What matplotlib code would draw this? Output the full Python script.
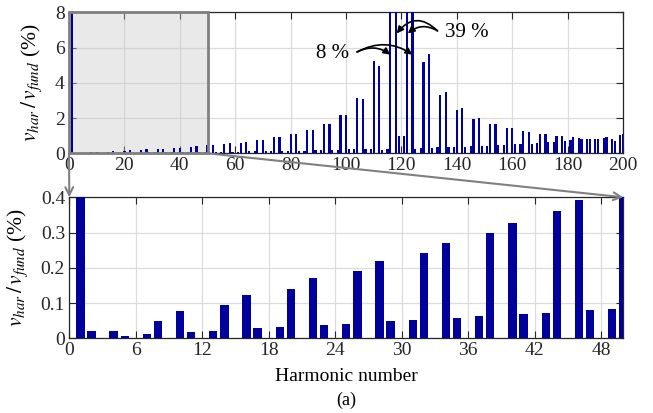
import matplotlib
matplotlib.use("Agg")
import matplotlib.pyplot as plt
from matplotlib.patches import Rectangle, ConnectionPatch

plt.rcParams['font.family'] = ['Liberation Serif', 'DejaVu Serif']
plt.rcParams['mathtext.fontset'] = 'stix'

# harmonic orders (triplen harmonics are absent)
orders = [h for h in range(1, 201) if h % 3]

# magnitude in % of fundamental, rows: 6k+1, 6k+2, 6k+4, 6k+5
mag = [
    100.0, 0.02, 0.02, 0.006,
    0.011, 0.049, 0.077, 0.018,
    0.02, 0.095, 0.123, 0.028,
    0.032, 0.141, 0.170, 0.038,
    0.041, 0.19, 0.219, 0.048,
    0.051, 0.242, 0.271, 0.058,
    0.062, 0.299, 0.328, 0.069,
    0.073, 0.361, 0.391, 0.080,
    0.084, 0.45, 0.48, 0.09,
    0.09, 0.54, 0.56, 0.10,
    0.10, 0.61, 0.64, 0.11,
    0.11, 0.74, 0.76, 0.12,
    0.12, 0.90, 0.92, 0.13,
    0.13, 1.07, 1.09, 0.14,
    0.15, 1.31, 1.33, 0.16,
    0.17, 1.65, 1.67, 0.18,
    0.19, 2.17, 2.17, 0.22,
    0.23, 3.12, 3.08, 0.23,
    0.23, 5.22, 4.97, 0.19,
    0.23, 8.0, 39.0, 0.98,
    0.98, 39.0, 8.0, 0.23,
    0.30, 5.18, 5.63, 0.32,
    0.34, 3.31, 3.49, 0.34,
    0.34, 2.46, 2.55, 0.38,
    0.41, 1.95, 2.00, 0.41,
    0.43, 1.64, 1.64, 0.45,
    0.49, 1.42, 1.42, 0.51,
    0.53, 1.25, 1.23, 0.55,
    0.59, 1.09, 1.09, 0.62,
    0.66, 0.98, 0.98, 0.70,
    0.76, 0.91, 0.87, 0.81,
    0.81, 0.83, 0.83, 0.79,
    0.89, 0.94, 0.79, 0.72,
    1.02, 1.09,
]

zoom_max = 50
ylab = r'$v_{har}\,/\,v_{fund}$ (%)'
bar_col = '#00009c'

fig = plt.figure(figsize=(6.53, 4.13), dpi=100)
ax1 = fig.add_axes([0.1057, 0.6288, 0.8484, 0.3414])
ax2 = fig.add_axes([0.1061, 0.1809, 0.8484, 0.3414])


def style(ax):
    ax.grid(True, color='#dcdcdc', lw=0.9)
    ax.set_axisbelow(True)
    ax.tick_params(direction='in', top=True, right=True, length=5,
                   labelsize=14, colors='#262626', pad=3)
    for s in ax.spines.values():
        s.set_color('#262626')
        s.set_linewidth(0.9)
    ax.set_ylabel(ylab, fontsize=15.5, labelpad=8)


# full spectrum
ax1.bar(orders, mag, width=0.8, color=bar_col, zorder=3)
ax1.set_xlim(0, 200)
ax1.set_ylim(0, 8)
ax1.set_xticks(range(0, 201, 20))
ax1.set_yticks(range(0, 9, 2))
style(ax1)
ax1.add_patch(Rectangle((0, 0), zoom_max, 8, facecolor='#c8c8c8', alpha=0.4,
                        edgecolor='none', zorder=2))
ax1.add_patch(Rectangle((0, 0), zoom_max, 8, facecolor='none',
                        edgecolor='#808080', lw=2, zorder=4, clip_on=False))

ax1.text(95, 5.65, '8 %', fontsize=15, ha='center', va='center')
for tx in (116, 124):
    ax1.annotate('', xy=(tx, 5.6), xytext=(104, 5.75),
                 arrowprops=dict(arrowstyle='-|>', color='black', lw=1.2,
                                 shrinkA=0, shrinkB=0,
                                 connectionstyle='arc3,rad=-0.3'))
ax1.text(143.5, 6.85, '39 %', fontsize=15, ha='center', va='center')
for tx, r in ((118.3, 0.55), (122.3, 0.35)):
    ax1.annotate('', xy=(tx, 6.8), xytext=(133, 6.95),
                 arrowprops=dict(arrowstyle='-|>', color='black', lw=1.2,
                                 shrinkA=0, shrinkB=0,
                                 connectionstyle='arc3,rad=%s' % r))

# first 50 harmonics
ax2.bar(orders, mag, width=0.75, color=bar_col, zorder=3)
ax2.set_xlim(0, zoom_max)
ax2.set_ylim(0, 0.4)
ax2.set_xticks(range(0, 49, 6))
ax2.set_yticks([0, 0.1, 0.2, 0.3, 0.4])
ax2.set_yticklabels(['0', '0.1', '0.2', '0.3', '0.4'])
style(ax2)
ax2.set_xlabel('Harmonic number', fontsize=14, labelpad=6)

for x in (0, zoom_max):
    con = ConnectionPatch(xyA=(x, 0), coordsA=ax1.transData,
                          xyB=(x, 0.4), coordsB=ax2.transData,
                          arrowstyle='->', color='#808080', lw=1.5,
                          mutation_scale=14)
    fig.add_artist(con)

fig.text(0.53, 0.02, '(a)', fontsize=13, ha='center')

fig.savefig('out.png', dpi=100)
